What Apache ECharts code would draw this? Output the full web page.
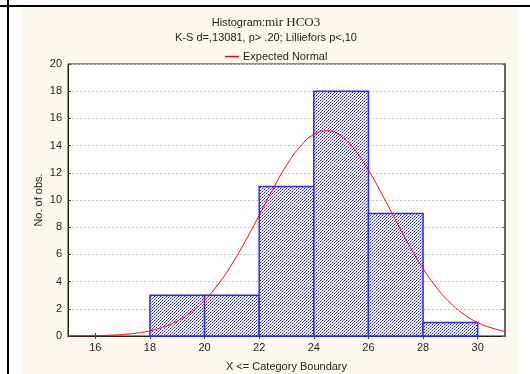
<!DOCTYPE html>
<html><head><meta charset="utf-8">
<script src="https://cdn.jsdelivr.net/npm/echarts@6/dist/echarts.min.js"></script>
<style>html,body{margin:0;padding:0;background:#fff}#c{width:530px;height:374px}</style>
</head><body><div id="c"></div>
<script>
// Histogram bins (lower, upper) and counts
const binStart = [18, 20, 22, 24, 26, 28];
const binEnd   = [20, 22, 24, 26, 28, 30];
const counts   = [3, 3, 11, 18, 9, 1];
// Expected normal curve
const curveX = [15, 15.5, 16, 16.5, 17, 17.5, 18, 18.5, 19, 19.5, 20, 20.5, 21, 21.5, 22, 22.5, 23, 23.5, 24, 24.5, 25, 25.5, 26, 26.5, 27, 27.5, 28, 28.5, 29, 29.5, 30, 30.5, 31];
const curveY = [0.006, 0.013, 0.028, 0.057, 0.11, 0.21, 0.38, 0.66, 1.10, 1.74, 2.63, 3.81, 5.28, 7.0, 8.88, 10.79, 12.54, 13.93, 14.82, 15.09, 14.69, 13.69, 12.2, 10.41, 8.5, 6.64, 4.96, 3.55, 2.43, 1.59, 0.99, 0.60, 0.34];
const xTicks = [16, 18, 20, 22, 24, 26, 28, 30];

const pat = document.createElement('canvas');
pat.width = 6; pat.height = 6;
const pc = pat.getContext('2d');
pc.fillStyle = '#ffffff'; pc.fillRect(0, 0, 6, 6);
pc.fillStyle = '#1010ff';
for (let x = 0; x < 6; x++) for (let y = 0; y < 6; y++) {
  if ((x + y) % 3 === 0 && x % 2 === 0) pc.fillRect(x, y, 1, 1);
  else if ((x + y) % 3 === 0) { pc.fillStyle = '#8080ff'; pc.fillRect(x, y, 1, 1); pc.fillStyle = '#1010ff'; }
}

const chart = echarts.init(document.getElementById('c'), null, {renderer: 'canvas'});
const font = 'Liberation Sans, Arial, sans-serif';
chart.setOption({
  animation: false,
  textStyle: {fontFamily: font, color: '#222'},
  graphic: [
    {type: 'rect', shape: {x: 22, y: 7, width: 495, height: 367}, style: {fill: '#fef9ee'}, z: -10, silent: true},
    {type: 'rect', shape: {x: 0, y: 5, width: 530, height: 2}, style: {fill: '#000'}, z: 100, silent: true},
    {type: 'rect', shape: {x: 7, y: 0, width: 2, height: 374}, style: {fill: '#000'}, z: 100, silent: true},
    {type: 'text', style: {x: 266, y: 16, text: '{a|Histogram:}{b|mir HCO3}', align: 'center',
      rich: {a: {fontFamily: font, fontSize: 11, fill: '#222'}, b: {fontFamily: 'Liberation Serif, Times New Roman, serif', fontSize: 13, fill: '#222'}}}, silent: true},
    {type: 'text', style: {x: 266, y: 32, text: 'K-S d=,13081, p> .20; Lilliefors p<,10', align: 'center', fontFamily: font, fontSize: 11, fill: '#222'}, silent: true}
  ],
  legend: {
    top: 46, left: 220, itemWidth: 14, itemHeight: 8, itemGap: 4,
    textStyle: {fontFamily: font, fontSize: 11, color: '#222', padding: [0, 0, 0, -1]},
    data: [{name: 'Expected Normal', icon: 'path://M0,0L10,0L10,1L0,1Z'}]
  },
  grid: {left: 68, top: 64, right: 25, bottom: 38, outerBoundsMode: 'none', containLabel: false, show: true, backgroundColor: '#fff', borderColor: '#222', borderWidth: 1},
  xAxis: [{
    type: 'value', min: 15, max: 31, position: 'bottom',
    name: 'X <= Category Boundary', nameLocation: 'middle', nameGap: 25,
    nameTextStyle: {fontFamily: font, fontSize: 11, color: '#222'},
    axisLine: {show: true, lineStyle: {color: '#444', width: 1}},
    axisTick: {show: true, inside: true, length: 3, customValues: xTicks, lineStyle: {color: '#444'}},
    axisLabel: {customValues: xTicks, fontSize: 11, color: '#222', margin: 6, fontFamily: font},
    splitLine: {show: false}
  }, {
    type: 'value', min: 15, max: 31, position: 'top',
    axisLine: {show: true, lineStyle: {color: '#222'}},
    axisTick: {show: true, inside: true, length: 3, customValues: xTicks, lineStyle: {color: '#444'}},
    axisLabel: {show: false}, splitLine: {show: false}
  }],
  yAxis: [{
    type: 'value', min: 0, max: 20, interval: 2, position: 'left',
    name: 'No. of obs.', nameLocation: 'middle', nameGap: 24, nameRotate: 90, nameMoveOverlap: false,
    nameTextStyle: {fontFamily: font, fontSize: 11, color: '#222'},
    axisLine: {show: true, lineStyle: {color: '#222'}},
    axisTick: {show: true, inside: true, length: 3, lineStyle: {color: '#444'}},
    axisLabel: {fontSize: 11, color: '#222', margin: 6, fontFamily: font},
    splitLine: {show: true, lineStyle: {color: '#c4c4c4', type: [2, 2], width: 1}}
  }, {
    type: 'value', min: 0, max: 20, interval: 2, position: 'right',
    axisLine: {show: true, lineStyle: {color: '#666', width: 2}},
    axisTick: {show: true, inside: true, length: 3, lineStyle: {color: '#666'}},
    axisLabel: {show: false}, splitLine: {show: false}
  }],
  series: [{
    type: 'custom', name: 'Histogram', xAxisIndex: 0, yAxisIndex: 0, z: 2,
    data: counts.map((v, i) => [binStart[i], binEnd[i], v]),
    renderItem: function (params, api) {
      const p0 = api.coord([api.value(0), 0]);
      const p1 = api.coord([api.value(1), api.value(2)]);
      return {type: 'rect', shape: {x: p0[0], y: p1[1], width: p1[0] - p0[0], height: p0[1] - p1[1]},
        style: {fill: {image: pat, repeat: 'repeat'}, stroke: '#2b2bff', lineWidth: 1.5}};
    }
  }, {
    type: 'line', name: 'Expected Normal', xAxisIndex: 0, yAxisIndex: 0, z: 5,
    data: curveX.map((x, i) => [x, curveY[i]]),
    smooth: true, symbol: 'none', lineStyle: {color: '#ff0000', width: 1}, itemStyle: {color: '#ff0000'}
  }]
});
</script></body></html>
